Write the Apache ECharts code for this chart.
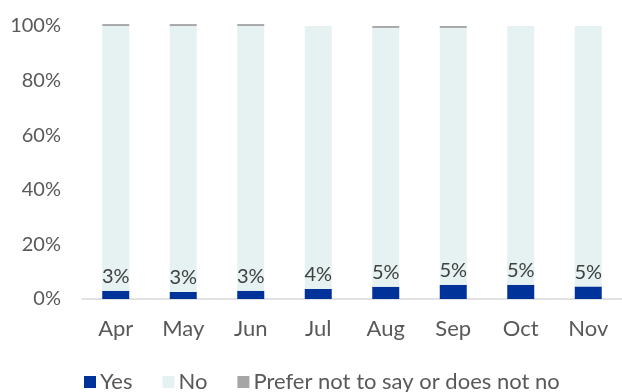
<!DOCTYPE html>
<html>
<head>
<meta charset="utf-8">
<script src="https://cdn.jsdelivr.net/npm/echarts@6/dist/echarts.min.js"></script>
<style>
html,body{margin:0;padding:0;background:#fff;}
#chart{width:622px;height:392px;}
</style>
</head>
<body>
<div id="chart"></div>
<script>
const categories = ['Apr','May','Jun','Jul','Aug','Sep','Oct','Nov'];
const yesValues = [3.0, 2.6, 3.0, 3.7, 4.5, 5.2, 5.2, 4.6];
const noValues = [97.0, 97.4, 97.0, 96.3, 94.8, 94.1, 94.8, 95.4];
const preferValues = [0.7, 0.7, 0.7, 0, 0.7, 0.7, 0, 0];
const yTicks = [0, 20, 40, 60, 80, 100];

const FONT = 'Lato, "Open Sans", sans-serif';
const chart = echarts.init(document.getElementById('chart'), null, {renderer: 'canvas'});
chart.setOption({
  animation: false,
  textStyle: {fontFamily: FONT},
  grid: {left: 82, right: -9, top: 26, bottom: 93, containLabel: false},
  legend: {
    left: 79, top: 366,
    itemWidth: 12, itemHeight: 12, itemGap: 30,
    icon: 'rect',
    textStyle: {fontFamily: FONT, fontSize: 22, color: '#595959', padding: [0,0,0,-1]},
    data: ['Yes','No','Prefer not to say or does not no']
  },
  xAxis: {
    type: 'category',
    data: categories,
    axisLine: {show: true, lineStyle: {color: '#D9D9D9', width: 1.5}},
    axisTick: {show: false},
    axisLabel: {color: '#595959', fontSize: 22, fontFamily: FONT, margin: 19}
  },
  yAxis: {
    type: 'value',
    min: yTicks[0], max: yTicks[yTicks.length-1], interval: 20,
    axisLine: {show: false},
    axisTick: {show: false},
    splitLine: {show: false},
    axisLabel: {color: '#595959', fontSize: 20, fontFamily: FONT, margin: 21, formatter: v => v + '%'}
  },
  series: [
    {
      name: 'Yes', type: 'bar', stack: 'total', barWidth: 27, clip: false,
      itemStyle: {color: '#00339A'},
      data: yesValues,
      label: {show: true, position: 'top', distance: 4, color: '#404040', fontSize: 20, fontFamily: FONT,
        formatter: p => Math.round(p.value) + '%'}
    },
    {
      name: 'No', type: 'bar', stack: 'total', barWidth: 27, clip: false,
      itemStyle: {color: '#E6F2F2'},
      data: noValues
    },
    {
      name: 'Prefer not to say or does not no', type: 'bar', stack: 'total', barWidth: 27, clip: false,
      itemStyle: {color: '#A6A6A6'},
      data: preferValues
    }
  ]
});
</script>
</body>
</html>
